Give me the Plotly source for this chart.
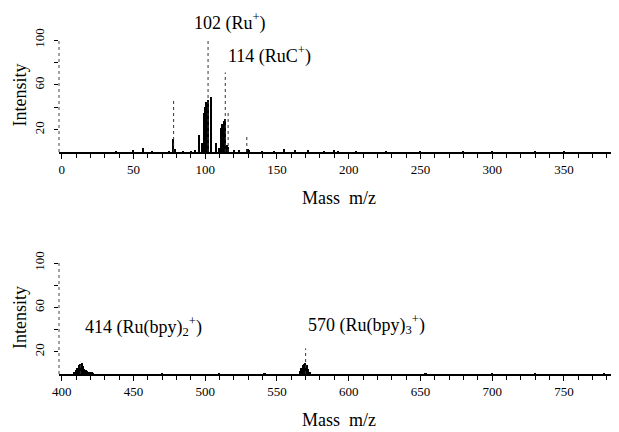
import plotly.graph_objects as go

# ---------------- data ----------------
# Top panel: m/z 0-390
top_solid_mz = [38, 50, 57, 63, 75, 78, 79, 85, 90, 93, 96, 98, 99, 100, 101, 102,
                104, 108, 110, 111, 112, 113, 114, 115, 116, 120, 124, 129, 130, 131,
                140, 148, 155, 163, 172, 183, 190, 193, 205, 226, 250, 280, 300, 330, 350]
top_solid_int = [1, 2, 4, 1, 1, 12, 3, 1, 1, 2, 15, 8, 35, 40, 45, 47,
                 49, 8, 4, 22, 25, 28, 30, 6, 5, 2, 2, 3, 3, 2,
                 1, 1, 3, 2, 2, 1, 2, 1, 1, 1, 1, 1, 1, 1, 1]
top_line_mz = [78, 102, 114, 116, 129]
top_line_int = [48, 100, 71, 35, 16]

# Bottom panel: m/z 400-790
bot_solid_mz = [409, 410, 411, 412, 413, 414, 415, 416, 417, 418, 419, 420, 421, 422,
                470, 510, 541, 542, 566, 567, 568, 569, 570, 571, 572, 573,
                653, 654, 700, 730, 778]
bot_solid_int = [2, 4, 6, 8, 9, 10, 7, 5, 4, 3, 2, 2, 2, 1,
                 1, 1, 1.5, 1.5, 3, 6, 8, 9, 10, 8, 5, 2,
                 1.5, 1.5, 1, 1, 1]
bot_line_mz = [413, 570]
bot_line_int = [11, 23]

y_tickvals = [20, 60, 100]
y_ticktext = ["20", "60", "100"]
y_minor_ticks = [40, 80]

# labels: (paper x, paper y, text)
top_labels = [(0.3054, 0.967, "102 (Ru<sup>+</sup>)"), (0.375, 0.8892, "114 (RuC<sup>+</sup>)")]
bot_labels = [(0.150, 0.2483, "414 (Ru(bpy)<sub>2</sub><sup>+</sup>)"),
              (0.5491, 0.2524, "570 (Ru(bpy)<sub>3</sub><sup>+</sup>)")]

FONT = "Liberation Serif"


def stick_xy(mz, inten):
    xs, ys = [], []
    for m, h in zip(mz, inten):
        xs += [m, m, None]
        ys += [0, h, None]
    return xs, ys


fig = go.Figure()

fig.add_trace(go.Bar(x=top_solid_mz, y=top_solid_int, width=0.95,
                     marker=dict(color="black", line=dict(width=0)),
                     xaxis="x", yaxis="y", showlegend=False))
xs, ys = stick_xy(top_line_mz, top_line_int)
fig.add_trace(go.Scatter(x=xs, y=ys, mode="lines",
                         line=dict(color="#333333", width=1, dash="dot"),
                         xaxis="x", yaxis="y", showlegend=False))

fig.add_trace(go.Bar(x=bot_solid_mz, y=bot_solid_int, width=0.95,
                     marker=dict(color="black", line=dict(width=0)),
                     xaxis="x2", yaxis="y2", showlegend=False))
xs, ys = stick_xy(bot_line_mz, bot_line_int)
fig.add_trace(go.Scatter(x=xs, y=ys, mode="lines",
                         line=dict(color="#333333", width=1, dash="dot"),
                         xaxis="x2", yaxis="y2", showlegend=False))

xaxis_common = dict(
    automargin=False,
    showline=True, linecolor="black", linewidth=1.5,
    ticks="outside", ticklen=5, tickcolor="black", tickwidth=1,
    dtick=50, showgrid=False, zeroline=False,
    minor=dict(ticks="outside", dtick=10, ticklen=4, tickcolor="black"),
    tickfont=dict(family=FONT, size=13, color="black"),
    ticklabelstandoff=0,
    title=dict(text="Mass\u00a0 m/z", font=dict(family=FONT, size=18, color="black"),
               standoff=15),
)
yaxis_common = dict(
    automargin=False,
    range=[0, 102], showline=False, showgrid=False, zeroline=False,
    tickvals=y_tickvals, ticktext=y_ticktext, tickangle=-90,
    ticks="outside", ticklen=4, tickcolor="black",
    minor=dict(tickvals=y_minor_ticks, ticks="outside", ticklen=4, tickcolor="black"),
    tickfont=dict(family=FONT, size=13, color="black"),
    ticklabelstandoff=5,
    title=dict(text="Intensity", font=dict(family=FONT, size=18, color="black"),
               standoff=0),
)

fig.update_layout(
    width=611, height=424,
    margin=dict(l=51, r=0, t=0, b=0, autoexpand=False),
    paper_bgcolor="white", plot_bgcolor="white",
    barmode="overlay", bargap=0,
    xaxis=dict(xaxis_common, domain=[0, 1], range=[-1.88, 388.4], tick0=0, anchor="y"),
    yaxis=dict(yaxis_common, domain=[0.6604, 0.9297], anchor="x"),
    xaxis2=dict(xaxis_common, domain=[0, 1], range=[398.12, 788.4], tick0=400, anchor="y2"),
    yaxis2=dict(yaxis_common, domain=[0.1368, 0.4038], anchor="x2"),
    font=dict(family=FONT, color="black"),
)

# dotted vertical y-axis lines
for yr in ["y", "y2"]:
    xr = "x domain" if yr == "y" else "x2 domain"
    fig.add_shape(type="line", xref=xr, yref=yr, x0=0, x1=0, y0=0, y1=102,
                  line=dict(color="#444444", width=1, dash="dot"))

for x, y, t in top_labels + bot_labels:
    fig.add_annotation(x=x, y=y, xref="paper", yref="paper", text=t, showarrow=False,
                       xanchor="center", yanchor="middle",
                       font=dict(family=FONT, size=18, color="black"))

fig.write_html("out.html")
